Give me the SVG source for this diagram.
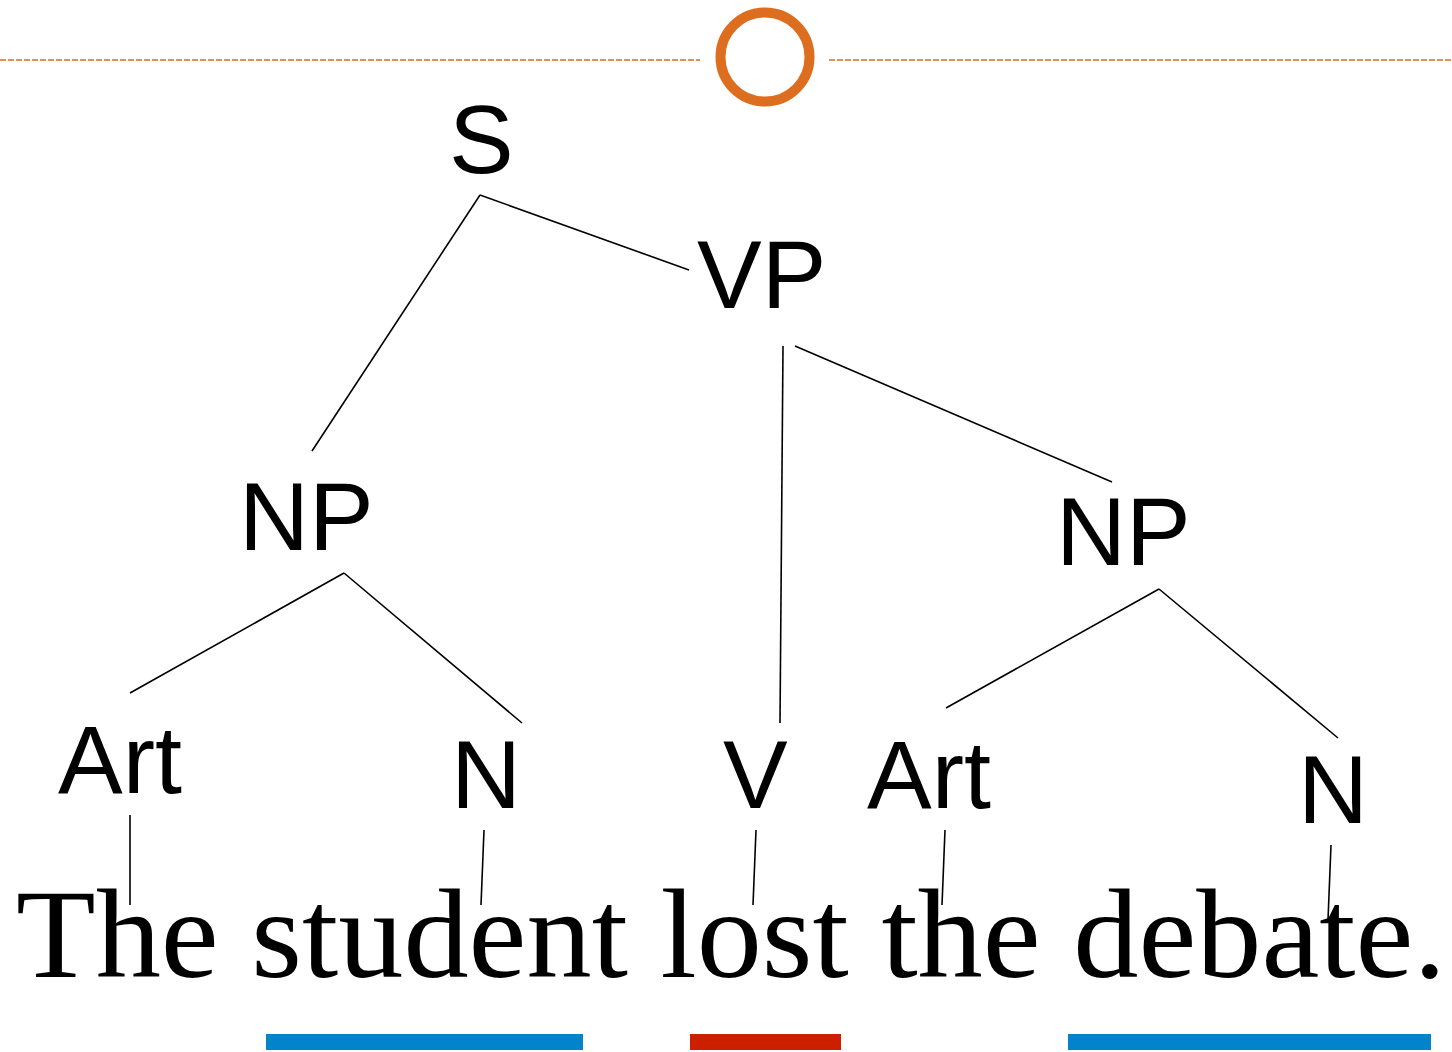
<svg xmlns="http://www.w3.org/2000/svg" width="1452" height="1052" viewBox="0 0 1452 1052">
<style>
.lbl{font-family:"Liberation Sans",Arial,sans-serif;font-size:97px;fill:#000}
.sent{font-family:"Liberation Serif","Times New Roman",serif;font-size:128px;fill:#000}
.edge{stroke:#000;stroke-width:1.6;fill:none}
.dash{stroke:#DE6E1F;stroke-width:1.6;stroke-dasharray:6 2;fill:none}
</style>
<rect width="1452" height="1052" fill="#fff"/>
<g id="header">
<line class="dash" x1="0" y1="60" x2="700" y2="60"/>
<line class="dash" x1="829" y1="60" x2="1452" y2="60"/>
<circle cx="765" cy="57" r="44.5" fill="none" stroke="#DE6E1F" stroke-width="10"/>
</g>
<g id="connectors">
<line class="edge" x1="480" y1="195" x2="312" y2="451"/>
<line class="edge" x1="480" y1="195" x2="689" y2="270"/>
<line class="edge" x1="783" y1="346" x2="780" y2="723"/>
<line class="edge" x1="795" y1="346" x2="1112" y2="482"/>
<line class="edge" x1="344" y1="573" x2="130" y2="693"/>
<line class="edge" x1="344" y1="573" x2="522" y2="723"/>
<line class="edge" x1="1159" y1="589" x2="946" y2="708"/>
<line class="edge" x1="1159" y1="589" x2="1338" y2="738"/>
<line class="edge" x1="130" y1="815" x2="130" y2="905"/>
<line class="edge" x1="484" y1="830" x2="481" y2="905"/>
<line class="edge" x1="756" y1="830" x2="753" y2="905"/>
<line class="edge" x1="945" y1="830" x2="942" y2="905"/>
<line class="edge" x1="1331" y1="845" x2="1328" y2="920"/>
</g>
<g id="node-S"><text class="lbl" x="449" y="173">S</text></g>
<g id="node-VP"><text class="lbl" x="697" y="308">VP</text></g>
<g id="node-NP1"><text class="lbl" x="239" y="550">NP</text></g>
<g id="node-NP2"><text class="lbl" x="1056" y="565">NP</text></g>
<g id="node-Art1"><text class="lbl" x="58" y="793">Art</text></g>
<g id="node-N1"><text class="lbl" x="451" y="808">N</text></g>
<g id="node-V"><text class="lbl" x="723" y="808">V</text></g>
<g id="node-Art2"><text class="lbl" x="867" y="808">Art</text></g>
<g id="node-N2"><text class="lbl" x="1298" y="823">N</text></g>
<g id="sentence"><text class="sent" x="16" y="977" textLength="1430" lengthAdjust="spacingAndGlyphs">The student lost the debate.</text></g>
<g id="bars">
<rect x="266" y="1034" width="317" height="16" fill="#0284CC"/>
<rect x="690" y="1034" width="151" height="16" fill="#CC1F00"/>
<rect x="1068" y="1034" width="363" height="16" fill="#0284CC"/>
</g>
</svg>
